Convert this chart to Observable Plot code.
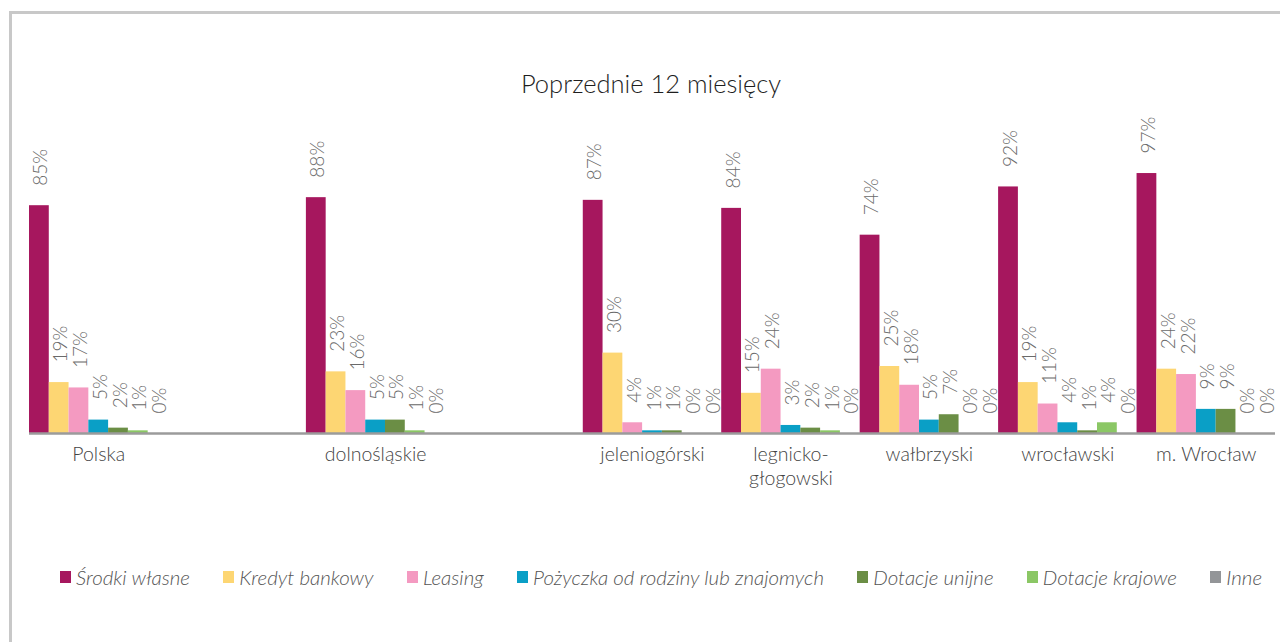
<!DOCTYPE html>
<html>
<head>
<meta charset="utf-8">
<script src="https://cdn.jsdelivr.net/npm/d3@7"></script>
<script src="https://cdn.jsdelivr.net/npm/@observablehq/plot@0.6"></script>
<style>
  html, body { margin: 0; padding: 0; background: #fff; }
  body { position: relative; width: 1280px; height: 642px; overflow: hidden; font-family: Lato, "Open Sans", sans-serif; }
  #frame { position: absolute; left: 9px; top: 11px; right: 0; bottom: 0; border-left: 3px solid #c8c8c8; border-top: 3px solid #c8c8c8; }
  #title { position: absolute; left: 0; width: 1302px; top: 67px; text-align: center; font-size: 25.5px; font-weight: 300; color: #1e1e1e; line-height: 32px; }
  #chart { position: absolute; left: 0; top: 110px; }
  #legend { position: absolute; left: 60px; top: 565px; width: 1202px; display: flex; justify-content: space-between; align-items: center; font-style: italic; font-weight: 300; font-size: 20.5px; color: #555; }
  .item { display: flex; align-items: center; white-space: nowrap; }
  .sw { width: 11px; height: 12px; margin-right: 5px; display: inline-block; }
</style>
</head>
<body>
<div id="frame"></div>
<div id="title">Poprzednie 12 miesięcy</div>
<div id="chart"></div>
<div id="legend"></div>
<script>
// ---- data ----
const categories = ["Polska", "dolnośląskie", "jeleniogórski", "legnicko-\ngłogowski", "wałbrzyski", "wrocławski", "m. Wrocław"];
// slot order along the axis (two empty slots separate the groups)
const slots = ["Polska", "_gap1", "dolnośląskie", "_gap2", "jeleniogórski", "legnicko-\ngłogowski", "wałbrzyski", "wrocławski", "m. Wrocław"];
const series = ["Środki własne", "Kredyt bankowy", "Leasing", "Pożyczka od rodziny lub znajomych", "Dotacje unijne", "Dotacje krajowe", "Inne"];
const colors = ["#a6175e", "#fdd673", "#f49ac1", "#0a9fc6", "#6b8e45", "#8bc765", "#939598"];

const srodkiWlasne   = [85, 88, 87, 84, 74, 92, 97];
const kredytBankowy  = [19, 23, 30, 15, 25, 19, 24];
const leasing        = [17, 16,  4, 24, 18, 11, 22];
const pozyczka       = [ 5,  5,  1,  3,  5,  4,  9];
const dotacjeUnijne  = [ 2,  5,  1,  2,  7,  1,  9];
const dotacjeKrajowe = [ 1,  1,  0,  1,  0,  4,  0];
const inne           = [ 0,  0,  0,  0,  0,  0,  0];

const seriesValues = [srodkiWlasne, kredytBankowy, leasing, pozyczka, dotacjeUnijne, dotacjeKrajowe, inne];

// ---- build table ----
const key = (c, s) => c + "|" + s;
const rows = [];
categories.forEach((c, i) => {
  series.forEach((s, j) => {
    rows.push({category: c, series: s, key: key(c, s), value: seriesValues[j][i]});
  });
});
const xDomain = slots.flatMap(c => series.map(s => key(c, s)));
const catLabels = categories.map(c => ({label: c, key: key(c, series[3])}));

const chart = Plot.plot({
  width: 1280,
  height: 400,
  marginLeft: 29,
  marginRight: 5,
  marginTop: 55,
  marginBottom: 77,
  x: {type: "band", domain: xDomain, padding: 0, axis: null},
  y: {domain: [0, 100], axis: null},
  color: {domain: series, range: colors},
  style: {fontFamily: "Lato, 'Open Sans', sans-serif", background: "transparent", overflow: "visible"},
  marks: [
    Plot.barY(rows, {x: "key", y: "value", fill: "series"}),
    Plot.ruleY([0], {stroke: "#9b9b9b", strokeWidth: 2.5}),
    Plot.text(rows, {
      x: "key", y: "value", text: d => d.value + "%",
      rotate: -90, textAnchor: "start", dy: -20, dx: 2,
      fontSize: 19, fontWeight: 300, fill: "#6a6a6a"
    }),
    Plot.text(catLabels, {
      x: "key", y: () => 0, text: "label",
      lineAnchor: "top", dy: 11, lineHeight: 1.22,
      fontSize: 19.5, fontWeight: 300, fill: "#444"
    })
  ]
});
document.getElementById("chart").appendChild(chart);

// ---- legend ----
const legend = document.getElementById("legend");
series.forEach((s, i) => {
  const item = document.createElement("div");
  item.className = "item";
  const sw = document.createElement("span");
  sw.className = "sw";
  sw.style.background = colors[i];
  const t = document.createElement("span");
  t.textContent = s;
  item.appendChild(sw);
  item.appendChild(t);
  legend.appendChild(item);
});
</script>
</body>
</html>
